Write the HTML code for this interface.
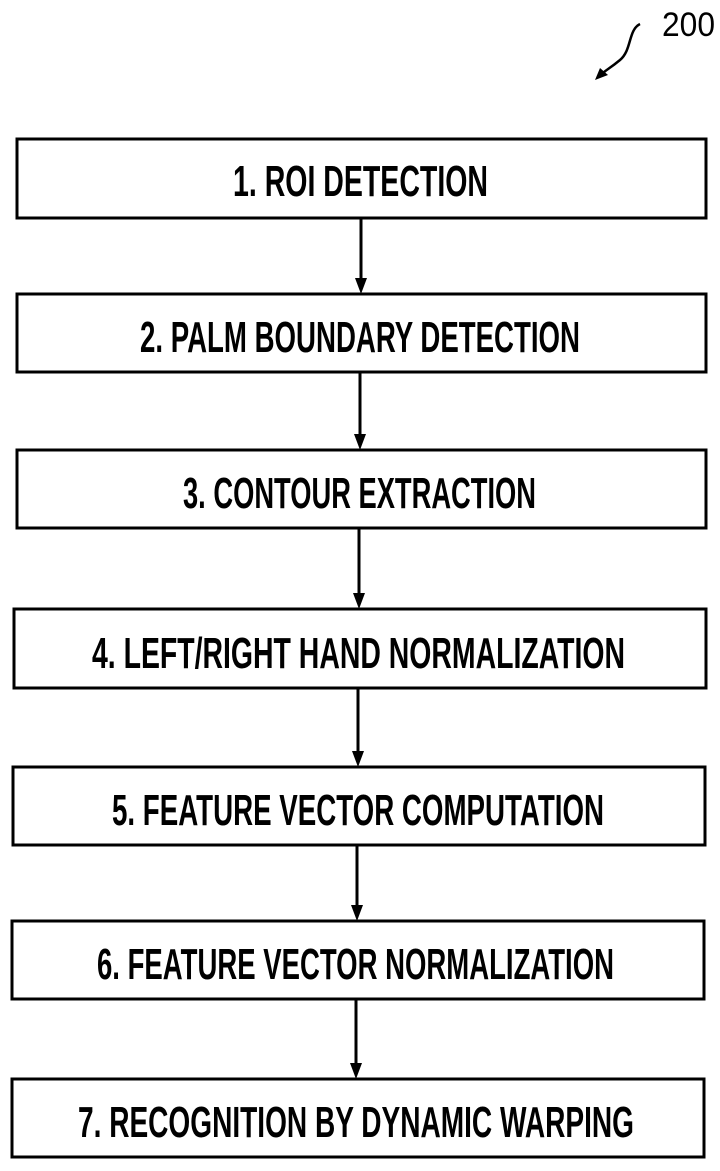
<!DOCTYPE html>
<html><head><meta charset="utf-8"><style>html,body{margin:0;padding:0;background:#fff}svg{display:block}</style></head>
<body>
<svg width="720" height="1171" viewBox="0 0 720 1171" xmlns="http://www.w3.org/2000/svg">
<g fill="none" stroke="#000" stroke-width="3">
<rect x="17" y="139" width="689" height="79"/>
<rect x="17" y="294" width="689" height="78"/>
<rect x="17" y="450" width="689" height="78"/>
<rect x="14" y="609" width="692" height="79"/>
<rect x="13" y="767" width="692" height="78"/>
<rect x="12" y="921" width="692" height="78"/>
<rect x="12" y="1079" width="692" height="78"/>
<line x1="361" y1="218" x2="361" y2="280"/>
<line x1="360" y1="372" x2="360" y2="436"/>
<line x1="359" y1="528" x2="359" y2="595"/>
<line x1="358" y1="688" x2="358" y2="753"/>
<line x1="357" y1="845" x2="357" y2="907"/>
<line x1="356" y1="999" x2="356" y2="1065"/>
<path d="M640 24 C 628 30, 632 50, 620 60 S 605 70, 600 76" stroke-width="2.5"/>
</g>
<g fill="#000">
<polygon points="355,278 367,278 361,294"/>
<polygon points="354,434 366,434 360,450"/>
<polygon points="353,593 365,593 359,609"/>
<polygon points="352,751 364,751 358,767"/>
<polygon points="351,905 363,905 357,921"/>
<polygon points="350,1063 362,1063 356,1079"/>
<polygon points="595,80 600,68 608,75"/>
</g>
<g font-family="Liberation Sans, sans-serif" font-size="44" font-weight="bold" fill="#000">
<text x="233" y="196" textLength="255" lengthAdjust="spacingAndGlyphs">1. ROI DETECTION</text>
<text x="140" y="352" textLength="440" lengthAdjust="spacingAndGlyphs">2. PALM BOUNDARY DETECTION</text>
<text x="183" y="508" textLength="353" lengthAdjust="spacingAndGlyphs">3. CONTOUR EXTRACTION</text>
<text x="92" y="668" textLength="533" lengthAdjust="spacingAndGlyphs">4. LEFT/RIGHT HAND NORMALIZATION</text>
<text x="112" y="825" textLength="492" lengthAdjust="spacingAndGlyphs">5. FEATURE VECTOR COMPUTATION</text>
<text x="97" y="979" textLength="517" lengthAdjust="spacingAndGlyphs">6. FEATURE VECTOR NORMALIZATION</text>
<text x="78" y="1137" textLength="556" lengthAdjust="spacingAndGlyphs">7. RECOGNITION BY DYNAMIC WARPING</text>
<text x="662" y="36" textLength="53" lengthAdjust="spacingAndGlyphs" font-size="34" font-weight="normal">200</text>
</g>
</svg>
</body></html>
